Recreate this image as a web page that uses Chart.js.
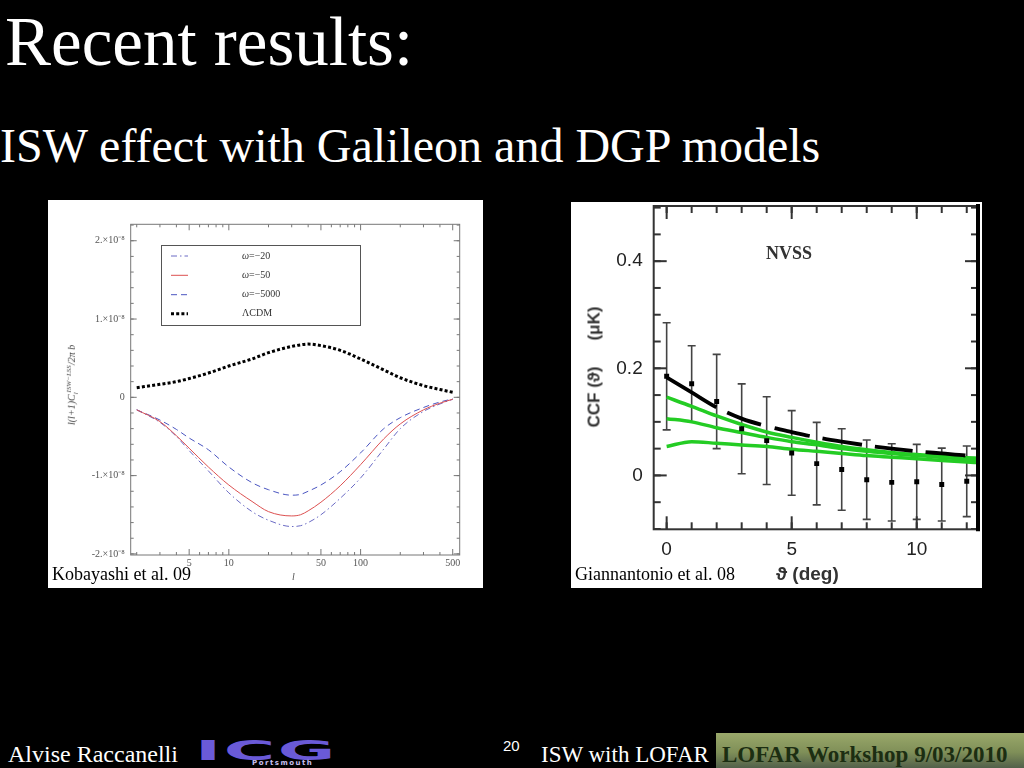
<!DOCTYPE html>
<html><head><meta charset="utf-8">
<script src="https://cdn.jsdelivr.net/npm/chart.js@4.4.0/dist/chart.umd.min.js"></script>
<style>
body{margin:0;background:#000;width:1024px;height:768px;overflow:hidden;position:relative;font-family:'Liberation Serif','Times New Roman',serif;color:#fff}
.abs{position:absolute;white-space:nowrap;line-height:1}
#box1{position:absolute;left:48px;top:200px;width:435px;height:388px;background:#fff}
#box2{position:absolute;left:571px;top:202px;width:411px;height:386px;background:#fff}
canvas{display:block}
</style></head><body>
<div class="abs" style="left:5px;top:8px;font-size:69px">Recent results:</div>
<div class="abs" style="left:0px;top:122px;font-size:48px">ISW effect with Galileon and DGP models</div>

<div id="box1"><canvas id="c1" width="435" height="388"></canvas></div>
<div id="box2"><canvas id="c2" width="411" height="386"></canvas></div>

<div class="abs" style="left:73px;top:385px;transform:translate(-50%,-50%) rotate(-90deg);font-size:10px;font-style:italic;color:#444">l(l+1)C<sub style="font-size:7px">l</sub><sup style="font-size:7px">ISW−LSS</sup>/2π b</div>
<div class="abs" style="left:292px;top:572px;font-size:10px;font-style:italic;color:#555">l</div>
<div class="abs" style="left:52px;top:565px;font-size:18px;color:#000">Kobayashi et al. 09</div>

<div class="abs" style="left:594px;top:367px;transform:translate(-50%,-50%) rotate(-90deg);font-family:'Liberation Sans',sans-serif;font-weight:bold;font-size:17px;color:#333">CCF (ϑ)<span style="margin-left:26px">(μK)</span></div>
<div class="abs" style="left:789px;top:253px;transform:translate(-50%,-50%);font-weight:bold;font-size:18px;color:#333">NVSS</div>
<div class="abs" style="left:776px;top:564px;font-family:'Liberation Sans',sans-serif;font-weight:bold;font-size:19px;color:#333">ϑ (deg)</div>
<div class="abs" style="left:575px;top:565px;font-size:18px;color:#000">Giannantonio et al. 08</div>

<div class="abs" style="left:8px;top:742px;font-size:24px">Alvise Raccanelli</div>
<div class="abs" style="left:195px;top:737px;font-family:'DejaVu Sans',sans-serif;font-weight:bold;font-size:27px;letter-spacing:1px;color:#6a5ad8;transform:scaleX(2.6);transform-origin:left top">ICG</div>
<div class="abs" style="left:252px;top:760px;font-family:'DejaVu Sans',sans-serif;font-weight:bold;font-size:7px;letter-spacing:1.5px;color:#c8c0f0">Portsmouth</div>
<div class="abs" style="left:503px;top:738px;font-family:'Liberation Sans',sans-serif;font-size:15px">20</div>
<div class="abs" style="left:541px;top:743px;font-size:23px">ISW with LOFAR</div>
<div class="abs" style="left:716px;top:733px;width:308px;height:35px;background:linear-gradient(180deg,#9aa86a 0%,#7f8f58 55%,#52604a 100%)"></div>
<div class="abs" style="left:722px;top:743px;font-size:23px;font-weight:bold;color:#1c2e12">LOFAR Workshop 9/03/2010</div>

<script>
// ---------- Left chart: Kobayashi et al. 09 (values in units of 1e-8) ----------
const ell    = [2,3,4,5,7,10,15,20,30,35,40,50,70,100,150,200,300,400,500];
const lcdm   = [0.123,0.166,0.20,0.24,0.31,0.40,0.49,0.57,0.65,0.67,0.68,0.66,0.60,0.49,0.35,0.25,0.15,0.10,0.064];
const om20   = [-0.16,-0.32,-0.50,-0.68,-0.94,-1.22,-1.46,-1.57,-1.65,-1.64,-1.60,-1.50,-1.29,-1.03,-0.66,-0.40,-0.18,-0.085,-0.025];
const om50   = [-0.16,-0.31,-0.49,-0.65,-0.89,-1.12,-1.33,-1.46,-1.515,-1.50,-1.45,-1.34,-1.13,-0.86,-0.53,-0.34,-0.16,-0.075,-0.025];
const om5000 = [-0.16,-0.29,-0.41,-0.52,-0.67,-0.89,-1.09,-1.18,-1.25,-1.24,-1.20,-1.12,-0.95,-0.71,-0.40,-0.26,-0.13,-0.06,-0.02];
const unitE  = 1e-8;
const leftYMajor = [-2,-1,0,1,2];
const leftYLabels = ['-2.×10⁻⁸','-1.×10⁻⁸','0','1.×10⁻⁸','2.×10⁻⁸'];
const leftXMajor = [5,10,50,100,500];
const leftXMinor = [2,3,4,6,7,8,9,20,30,40,60,70,80,90,200,300,400];
const legendNames = ['ω=−20','ω=−50','ω=−5000','ΛCDM'];

// ---------- Right chart: Giannantonio et al. 08 ----------
const theta  = [0,1,2,3,4,5,6,7,8,9,10,11,12];
const ccf    = [0.185,0.171,0.138,0.087,0.065,0.042,0.022,0.011,-0.008,-0.013,-0.012,-0.017,-0.011];
const ccfErr = [0.100,0.071,0.088,0.084,0.082,0.079,0.077,0.076,0.074,0.072,0.070,0.068,0.066];
const thetaModel = [0,1,2,3,4,5,6,7,8,9,10,11,12,12.45];
const modelBlack = [0.183,0.155,0.127,0.106,0.092,0.081,0.071,0.063,0.056,0.050,0.045,0.041,0.037,0.036];
const modelG1 = [0.146,0.129,0.111,0.095,0.081,0.071,0.062,0.054,0.048,0.043,0.039,0.036,0.033,0.032];
const modelG2 = [0.106,0.100,0.089,0.080,0.071,0.063,0.057,0.050,0.045,0.041,0.037,0.034,0.030,0.029];
const modelG3 = [0.054,0.063,0.060,0.057,0.054,0.049,0.045,0.041,0.037,0.034,0.031,0.028,0.025,0.024];
const rightYMajor = [0,0.2,0.4];
const rightXMajor = [0,5,10];

const pts = (xs, ys, k=1) => xs.map((x,i)=>({x, y: ys[i]*k}));

function range(a,b,s){const r=[];for(let v=a;v<=b+1e-12;v+=s)r.push(+v.toFixed(10));return r;}

const framePlugin = {
  id:'frame',
  afterDatasetsDraw(chart, args, o){
    const {ctx, chartArea:a, scales:{x,y}} = chart;
    ctx.save();
    ctx.strokeStyle=o.color; ctx.lineWidth=o.lw;
    const ln=(x1,y1,x2,y2)=>{ctx.beginPath();ctx.moveTo(x1,y1);ctx.lineTo(x2,y2);ctx.stroke();};
    const doX=(vals,len)=>vals.forEach(v=>{const p=x.getPixelForValue(v); if(p<a.left-0.5||p>a.right+0.5) return; ln(p,a.bottom,p,a.bottom-len); ln(p,a.top,p,a.top+len);});
    const doY=(vals,len)=>vals.forEach(v=>{const p=y.getPixelForValue(v); if(p<a.top-0.5||p>a.bottom+0.5) return; ln(a.left,p,a.left+len,p); ln(a.right,p,a.right-len,p);});
    ctx.lineWidth=o.tickLw;
    doX(o.xMinor,o.minLen); doX(o.xMajor,o.majLen);
    doY(o.yMinor,o.minLen); doY(o.yMajor,o.majLen);
    ctx.lineWidth=o.lw;
    ctx.strokeRect(a.left,a.top,a.right-a.left,a.bottom-a.top);
    if(o.rightLw){ctx.strokeStyle='#000';ctx.lineWidth=o.rightLw;ln(a.right,a.top-2,a.right,a.bottom+2);}
    ctx.restore();
  }
};

const legendPlugin = {
  id:'boxlegend',
  afterDraw(chart, args, o){
    if(!o.show) return;
    const ctx=chart.ctx;
    ctx.save();
    ctx.fillStyle='#fff'; ctx.strokeStyle='#555'; ctx.lineWidth=1;
    ctx.fillRect(113.5,45.5,199,80); ctx.strokeRect(113.5,45.5,199,80);
    const rows=[56,75.3,94.7,113.7];
    o.order.forEach((di,i)=>{
      const ds=chart.data.datasets[di];
      ctx.strokeStyle=ds.borderColor; ctx.lineWidth=ds.borderWidth; ctx.setLineDash(ds.borderDash||[]);
      ctx.beginPath(); ctx.moveTo(123,rows[i]); ctx.lineTo(140,rows[i]); ctx.stroke();
      ctx.setLineDash([]);
      ctx.fillStyle='#333'; ctx.textBaseline='middle';
      const name=legendNames[i];
      if(name.startsWith('ω')){
        ctx.font='italic 10px "Liberation Serif"'; ctx.fillText('ω',194,rows[i]);
        const w=ctx.measureText('ω').width;
        ctx.font='10px "Liberation Serif"'; ctx.fillText(name.slice(1),194+w,rows[i]);
      } else { ctx.font='10px "Liberation Serif"'; ctx.fillText(name,194,rows[i]); }
    });
    ctx.restore();
  }
};

const errPlugin = {
  id:'errbars',
  beforeDatasetsDraw(chart, args, o){
    if(!o.show) return;
    const {ctx, scales:{x,y}} = chart;
    ctx.save(); ctx.strokeStyle='#444'; ctx.lineWidth=1.6;
    theta.forEach((t,i)=>{
      const px=x.getPixelForValue(t), hi=y.getPixelForValue(ccf[i]+ccfErr[i]), lo=y.getPixelForValue(ccf[i]-ccfErr[i]);
      ctx.beginPath(); ctx.moveTo(px,hi); ctx.lineTo(px,lo);
      ctx.moveTo(px-4,hi); ctx.lineTo(px+4,hi); ctx.moveTo(px-4,lo); ctx.lineTo(px+4,lo); ctx.stroke();
    });
    ctx.restore();
  }
};

Chart.register(framePlugin, legendPlugin, errPlugin);

const fixAxis = (w,h) => s => { if(w!=null) s.width=w; if(h!=null) s.height=h; s.paddingTop=0; s.paddingBottom=0; s.paddingLeft=0; s.paddingRight=0; };
const noGrid = {display:false, drawTicks:false, tickLength:0};

new Chart(document.getElementById('c1'), {
  type:'line',
  data:{datasets:[
    {label:legendNames[0], data:pts(ell,om20,unitE), borderColor:'#6a6ac4', borderWidth:1, borderDash:[6,3,1.5,3], pointRadius:0, cubicInterpolationMode:'monotone', order:2},
    {label:legendNames[1], data:pts(ell,om50,unitE), borderColor:'#dc5050', borderWidth:1, pointRadius:0, cubicInterpolationMode:'monotone', order:1},
    {label:legendNames[2], data:pts(ell,om5000,unitE), borderColor:'#4a55c0', borderWidth:1, borderDash:[6,4], pointRadius:0, cubicInterpolationMode:'monotone', order:3},
    {label:legendNames[3], data:pts(ell,lcdm,unitE), borderColor:'#000', borderWidth:3, borderDash:[3,2.2], pointRadius:0, cubicInterpolationMode:'monotone', order:0}
  ]},
  options:{
    responsive:false, animation:false, events:[],
    layout:{padding:{left:0,right:23.3,top:24.3,bottom:0}},
    plugins:{legend:{display:false}, tooltip:{enabled:false},
      frame:{color:'#777', lw:1, tickLw:1, majLen:6, minLen:3, xMajor:leftXMajor, xMinor:leftXMinor, yMajor:leftYMajor.map(v=>v*unitE), yMinor:range(-2,2.2,0.2).map(v=>v*unitE)},
      boxlegend:{show:true, order:[0,1,2,3]}, errbars:{show:false}},
    scales:{
      x:{type:'logarithmic', min:1.8, max:565, grid:noGrid, border:{display:false},
         afterBuildTicks:s=>{s.ticks=leftXMajor.map(v=>({value:v}));},
         afterFit:fixAxis(null,33),
         ticks:{autoSkip:false, maxRotation:0, padding:2, color:'#555', font:{family:'Liberation Serif', size:10}, callback:v=>String(v)}},
      y:{type:'linear', min:-2.014e-8, max:2.21e-8, grid:noGrid, border:{display:false},
         afterBuildTicks:s=>{s.ticks=leftYMajor.map(v=>({value:v*unitE}));},
         afterFit:fixAxis(82.7,null),
         ticks:{autoSkip:false, padding:6, color:'#555', font:{family:'Liberation Serif', size:10},
           callback:v=>leftYLabels[leftYMajor.indexOf(Math.round(v/unitE))]}}
    }
  }
});

new Chart(document.getElementById('c2'), {
  type:'line',
  data:{datasets:[
    {label:'data', data:pts(theta,ccf), showLine:false, pointStyle:'rect', pointRadius:3.5, backgroundColor:'#000', borderColor:'#000', borderWidth:0, order:0},
    {label:'model', data:pts(thetaModel,modelBlack), borderColor:'#000', borderWidth:3.8, borderDash:[58,12,36,14,36,13,40,13,38,13,40,20], pointRadius:0, cubicInterpolationMode:'monotone', order:1},
    {label:'g1', data:pts(thetaModel,modelG1), borderColor:'#24cc24', borderWidth:3.5, pointRadius:0, cubicInterpolationMode:'monotone', order:2},
    {label:'g2', data:pts(thetaModel,modelG2), borderColor:'#24cc24', borderWidth:3.5, pointRadius:0, cubicInterpolationMode:'monotone', order:3},
    {label:'g3', data:pts(thetaModel,modelG3), borderColor:'#24cc24', borderWidth:3.5, pointRadius:0, cubicInterpolationMode:'monotone', order:4}
  ]},
  options:{
    responsive:false, animation:false, events:[],
    layout:{padding:{left:0,right:2.7,top:1.3,bottom:0}},
    plugins:{legend:{display:false}, tooltip:{enabled:false},
      frame:{color:'#333', lw:2, tickLw:2, majLen:13, minLen:7, rightLw:4, xMajor:rightXMajor, xMinor:range(0,12,1), yMajor:rightYMajor, yMinor:range(-0.1,0.5,0.05)},
      boxlegend:{show:false}, errbars:{show:true}},
    scales:{
      x:{type:'linear', min:-0.518, max:12.45, grid:noGrid, border:{display:false},
         afterBuildTicks:s=>{s.ticks=rightXMajor.map(v=>({value:v}));},
         afterFit:fixAxis(null,58.7),
         ticks:{autoSkip:false, maxRotation:0, padding:9, color:'#222', font:{family:'Liberation Sans', size:19}, callback:v=>String(v)}},
      y:{type:'linear', min:-0.1006, max:0.503, grid:noGrid, border:{display:false},
         afterBuildTicks:s=>{s.ticks=rightYMajor.map(v=>({value:v}));},
         afterFit:fixAxis(82.7,null),
         ticks:{autoSkip:false, padding:11, color:'#222', font:{family:'Liberation Sans', size:19}, callback:v=>v===0?'0':v.toFixed(1)}}
    }
  }
});
</script>
</body></html>
